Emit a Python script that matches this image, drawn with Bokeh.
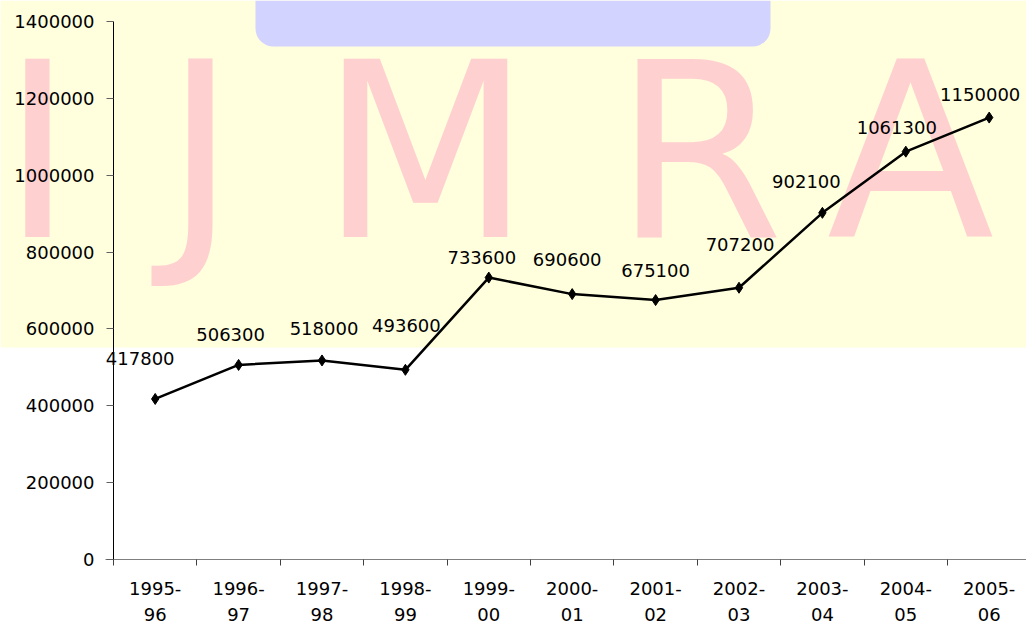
from bokeh.plotting import figure
from bokeh.models import (ColumnDataSource, FixedTicker, BoxAnnotation, Label,
                          Range1d, BasicTickFormatter, LinearAxis)
from bokeh.core.properties import value
from bokeh.embed import file_html
from bokeh.resources import INLINE

# ---- data ----
periods = ["1995-96", "1996-97", "1997-98", "1998-99", "1999-00", "2000-01",
           "2001-02", "2002-03", "2003-04", "2004-05", "2005-06"]
production = [417800, 506300, 518000, 493600, 733600, 690600,
              675100, 707200, 902100, 1061300, 1150000]
y_ticks = [0, 200000, 400000, 600000, 800000, 1000000, 1200000, 1400000]

# label placement offsets (pixels, style only)
label_dx = [-15, -8, 2, 1, -7, -5, 0, 1, -16, -9, -9]
label_dy = [-40, -30, -32, -44, -20, -35, -30, -43, -31, -24, -23]

FONT = "DejaVu Sans"
W, H = 1026, 624
AX_X, AX_Y, TOP = 113, 559, 21          # pixel positions of the axes / top tick
n = len(periods)
y_max = y_ticks[-1]
px_per_cat = 83.4
px_per_val = (AX_Y - TOP) / y_max

xs = [i + 0.5 for i in range(n)]
src = ColumnDataSource(dict(x=xs, y=production, t=[str(v) for v in production],
                            dx=label_dx, dy=label_dy))

x_rng = Range1d(-AX_X / px_per_cat, (W - AX_X) / px_per_cat)
y_rng = Range1d(-(H - AX_Y) / px_per_val, AX_Y / px_per_val)

p = figure(width=W, height=H, output_backend="svg", toolbar_location=None,
           x_range=x_rng, y_range=y_rng,
           x_axis_location=None, y_axis_location=None,
           min_border=0, min_border_left=0, min_border_right=0,
           min_border_top=0, min_border_bottom=0)
p.outline_line_color = None
p.grid.visible = False
p.background_fill_color = "white"
p.border_fill_color = "white"

# watermark background
band = BoxAnnotation(left=0, right=W, top=0, bottom=347,
                     left_units="canvas", right_units="canvas",
                     top_units="canvas", bottom_units="canvas",
                     fill_color="#FFFFDE", fill_alpha=1.0, line_color=None,
                     level="underlay")
p.add_layout(band)
blob = BoxAnnotation(left=255, right=770, top=0, bottom=46,
                     left_units="canvas", right_units="canvas",
                     top_units="canvas", bottom_units="canvas",
                     fill_color="#D2D4FF", fill_alpha=1.0, line_color=None,
                     border_radius=dict(top_left=0, top_right=0, bottom_left=18, bottom_right=18),
                     level="underlay")
p.add_layout(blob)
for ch, cx in zip(["I", "J", "M", "R", "A"], [37, 200, 425, 698, 910]):
    p.add_layout(Label(x=cx, y=152, x_units="canvas", y_units="canvas", text=ch,
                       text_align="center", text_baseline="alphabetic",
                       text_font=FONT, text_font_size="245px",
                       text_color="#FFD0D0", level="underlay"))

# line and markers
p.line("x", "y", source=src, line_color="black", line_width=2.5)
p.scatter("x", "y", source=src, marker="diamond", size=11, fill_color="black",
          line_color="black")
p.text("x", "y", text="t", source=src, x_offset="dx", y_offset="dy",
       text_align="center", text_baseline="middle", text_font=value(FONT),
       text_font_size="18px", text_color="black")

# axes (fixed at the data origin)
xa = LinearAxis(fixed_location=0)
xa.ticker = FixedTicker(ticks=xs, minor_ticks=list(range(n + 1)))
xa.major_label_overrides = {x: lab.replace("-", "-\n") for x, lab in zip(xs, periods)}
xa.bounds = (-8 / px_per_cat, (W - AX_X) / px_per_cat)
xa.major_tick_out = 0
xa.major_tick_in = 0
xa.minor_tick_out = 6
xa.minor_tick_in = 0
xa.minor_tick_line_color = "#404040"
xa.axis_line_color = "#7f7f7f"
xa.major_label_standoff = 12
xa.major_label_text_font = FONT
xa.major_label_text_font_size = "18px"
xa.major_label_text_color = "black"
xa.major_label_text_line_height = 1.24
p.add_layout(xa, "below")

ya = LinearAxis(fixed_location=0)
ya.ticker = FixedTicker(ticks=y_ticks, minor_ticks=[])
ya.formatter = BasicTickFormatter(use_scientific=False)
ya.bounds = (0, y_max)
ya.major_tick_out = 7
ya.major_tick_in = 0
ya.minor_tick_out = 0
ya.minor_tick_in = 0
ya.major_tick_line_color = "#606060"
ya.axis_line_color = "black"
ya.major_label_standoff = 12
ya.major_label_text_font = FONT
ya.major_label_text_font_size = "18px"
ya.major_label_text_color = "black"
p.add_layout(ya, "left")

open("out.html", "w").write(file_html(p, INLINE))
